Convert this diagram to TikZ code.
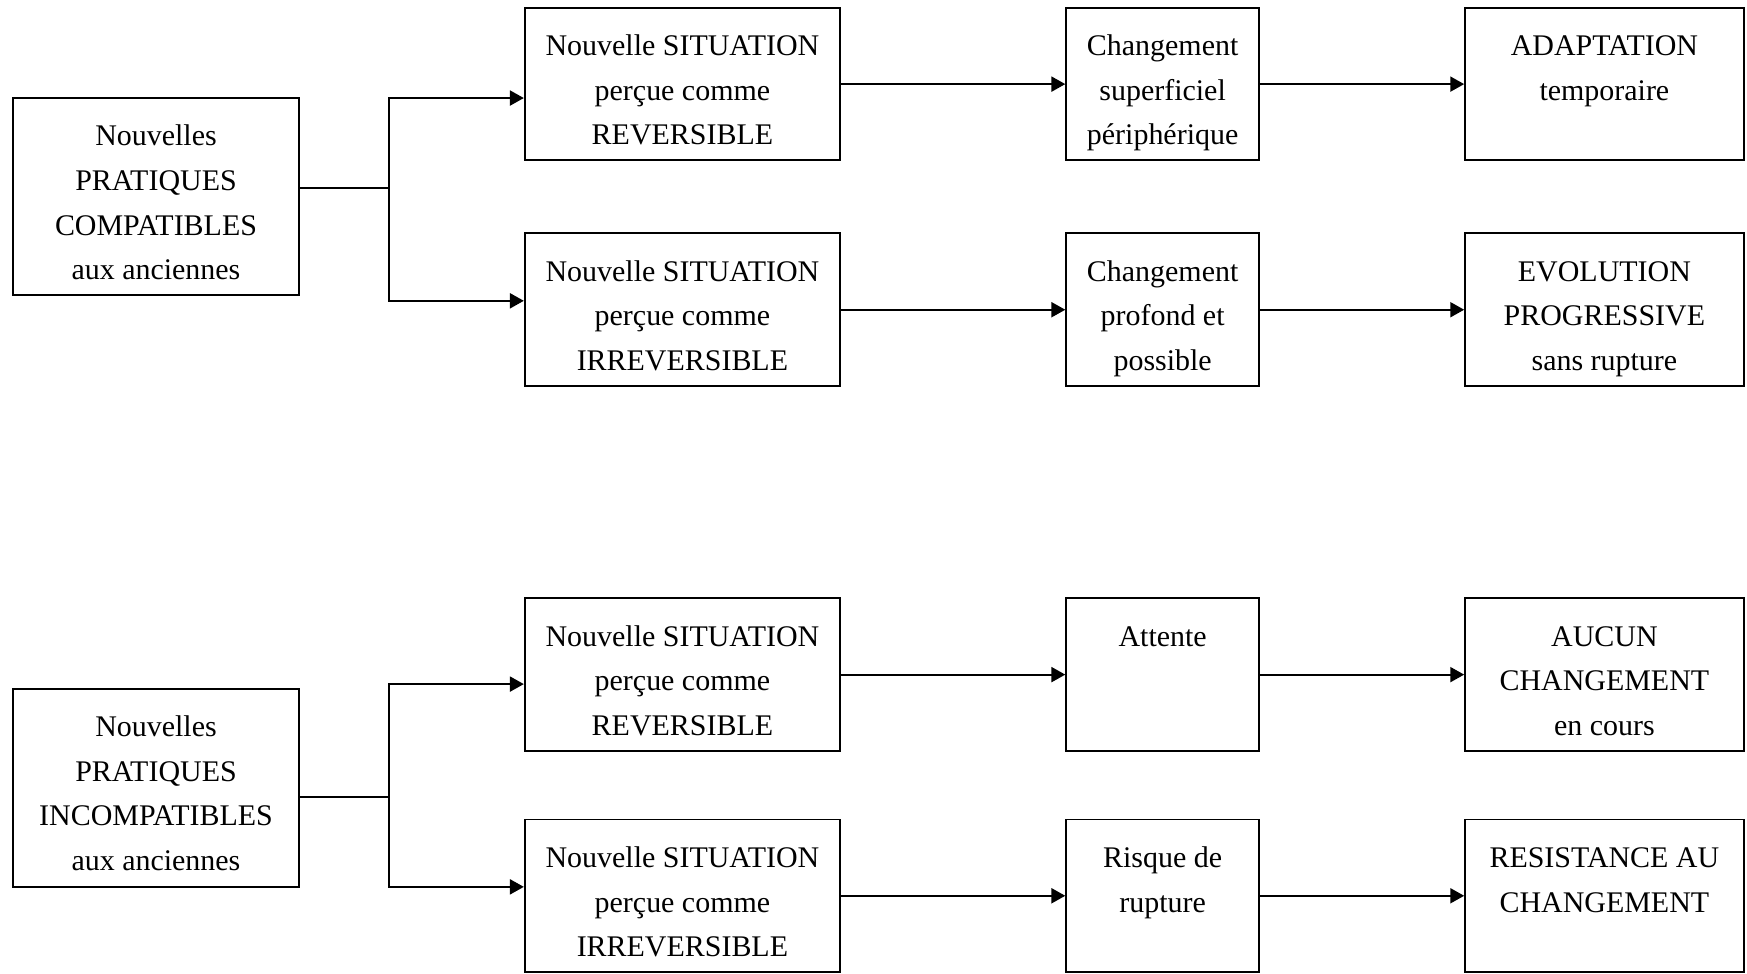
\documentclass[tikz,border=0pt]{standalone}
\usepackage{fontspec}
\setmainfont{Liberation Serif}
\usetikzlibrary{arrows.meta}
\begin{document}
\begin{tikzpicture}[x=0.02cm,y=-0.02cm,
  box/.style={draw, line width=1pt, inner sep=0pt, minimum height=2.74cm},
  lbl/.style={anchor=north, inner sep=0pt, align=center, yshift=-0.31cm,
    font=\fontsize{15.3}{22.8}\selectfont},
  conn/.style={line width=1pt},
  arr/.style={line width=1pt, -{Triangle[length=0.25cm,width=0.27cm]}}]
\useasboundingbox (0,0) rectangle (1568,874);
% ---- top group
\node[box, minimum width=5.12cm, minimum height=3.54cm] (L1) at (140,176.5) {};
\node[box, minimum width=5.66cm] (S1) at (612.5,75.5) {};
\node[box, minimum width=5.66cm] (S2) at (612.5,278) {};
\node[box, minimum width=3.46cm] (C1) at (1043.5,75.5) {};
\node[box, minimum width=3.46cm] (C2) at (1043.5,278) {};
\node[box, minimum width=5.0cm] (R1) at (1440,75.5) {};
\node[box, minimum width=5.0cm] (R2) at (1440,278) {};
% ---- bottom group
\node[box, minimum width=5.12cm, minimum height=3.56cm] (L2) at (140,707) {};
\node[box, minimum width=5.66cm] (S3) at (612.5,605.5) {};
\node[box, minimum width=5.66cm] (S4) at (612.5,804) {};
\node[box, minimum width=3.46cm] (C3) at (1043.5,605.5) {};
\node[box, minimum width=3.46cm] (C4) at (1043.5,804) {};
\node[box, minimum width=5.0cm] (R3) at (1440,605.5) {};
\node[box, minimum width=5.0cm] (R4) at (1440,804) {};
% ---- labels
\node[lbl] (tL1) at (L1.north) {\strut Nouvelles\\PRATIQUES\\COMPATIBLES\\aux anciennes};
\node[lbl] (tS1) at (S1.north) {\strut Nouvelle SITUATION\\perçue comme\\REVERSIBLE};
\node[lbl] (tS2) at (S2.north) {\strut Nouvelle SITUATION\\perçue comme\\IRREVERSIBLE};
\node[lbl] (tC1) at (C1.north) {\strut Changement\\superficiel\\périphérique};
\node[lbl] (tC2) at (C2.north) {\strut Changement\\profond et\\possible};
\node[lbl] (tR1) at (R1.north) {\strut ADAPTATION\\temporaire};
\node[lbl] (tR2) at (R2.north) {\strut EVOLUTION\\PROGRESSIVE\\sans rupture};
\node[lbl] (tL2) at (L2.north) {\strut Nouvelles\\PRATIQUES\\INCOMPATIBLES\\aux anciennes};
\node[lbl] (tS3) at (S3.north) {\strut Nouvelle SITUATION\\perçue comme\\REVERSIBLE};
\node[lbl] (tS4) at (S4.north) {\strut Nouvelle SITUATION\\perçue comme\\IRREVERSIBLE};
\node[lbl] (tC3) at (C3.north) {\strut Attente};
\node[lbl] (tC4) at (C4.north) {\strut Risque de\\rupture};
\node[lbl] (tR3) at (R3.north) {\strut AUCUN\\CHANGEMENT\\en cours};
\node[lbl] (tR4) at (R4.north) {\strut RESISTANCE AU\\CHANGEMENT};
% ---- junctions
\coordinate (j1) at (349,169);
\coordinate (j1a) at (349,88);
\coordinate (j1b) at (349,270);
\coordinate (j2) at (349,715);
\coordinate (j2a) at (349,614);
\coordinate (j2b) at (349,796);
% ---- connectors
\draw[conn] (L1.east |- j1) -- (j1);
\draw[arr] (j1) |- (S1.west |- j1a);
\draw[arr] (j1) |- (S2.west |- j1b);
\draw[conn] (L2.east |- j2) -- (j2);
\draw[arr] (j2) |- (S3.west |- j2a);
\draw[arr] (j2) |- (S4.west |- j2b);
\draw[arr] (S1) -- (C1);
\draw[arr] (S2) -- (C2);
\draw[arr] (S3) -- (C3);
\draw[arr] (S4) -- (C4);
\draw[arr] (C1) -- (R1);
\draw[arr] (C2) -- (R2);
\draw[arr] (C3) -- (R3);
\draw[arr] (C4) -- (R4);
\end{tikzpicture}
\end{document}
